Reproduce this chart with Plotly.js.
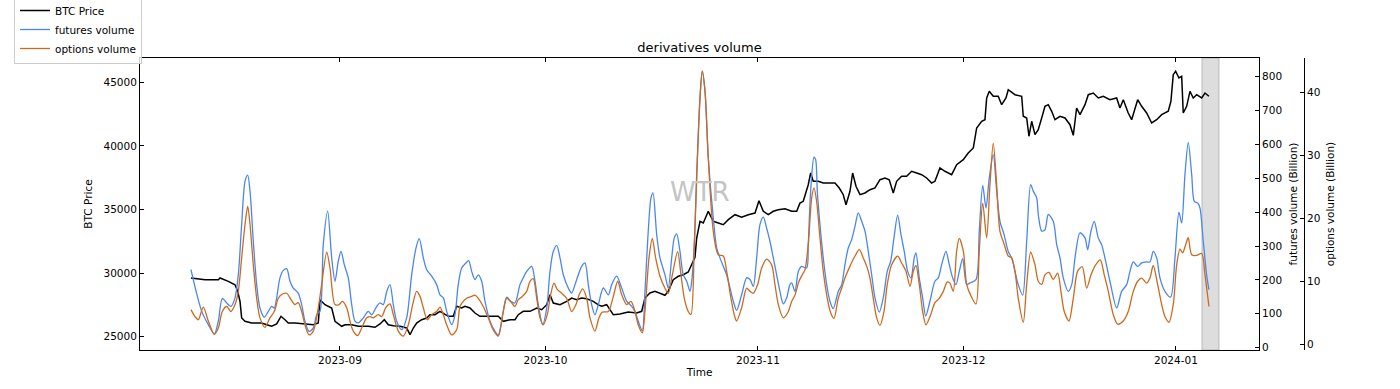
<!DOCTYPE html>
<html><head><meta charset="utf-8">
<script src="https://cdn.plot.ly/plotly-3.0.1.min.js"></script>
<style>html,body{margin:0;padding:0;background:#fff}#chart{width:1400px;height:389px}</style>
</head><body><div id="chart"></div>
<script>
// time values are days since START
const START = '2023-09-01';
const seriesNames = ['BTC Price', 'futures volume', 'options volume'];
const axisTitles = ['BTC Price', 'futures volume (Billion)', 'options volume (Billion)'];
const chartTitle = 'derivatives volume';
const xTitle = 'Time';
const watermark = 'WTR';
const xRange = ['2023-08-02 19:30', '2024-01-13 03:00'];
const shadeSpan = ['2024-01-04 19:00', '2024-01-07 07:00'];

const btcPrice = [[-21.75,29615],[-19.70,29481],[-17.76,29481],[-17.51,29615],[-16.30,29355],[-15.32,29088],[-14.93,28570],[-14.59,27783],[-14.35,26470],[-13.86,26210],[-12.89,26077],[-11.43,26077],[-10.70,25943],[-9.97,25818],[-9.24,26000],[-8.61,26604],[-8.03,26337],[-7.55,26077],[-6.57,26077],[-5.11,26022],[-3.90,25943],[-3.17,26077],[-2.92,27909],[-2.19,27516],[-1.21,27256],[-0.73,26211],[0.25,25818],[0.73,25943],[1.71,25943],[2.67,25818],[4.13,25818],[5.11,25739],[5.84,26000],[6.47,26337],[7.05,25943],[7.78,25865],[8.76,25818],[9.73,25684],[10.22,25157],[10.70,25684],[11.19,26077],[11.92,26337],[12.65,26470],[13.13,26730],[13.86,26730],[14.59,26997],[15.81,26604],[16.53,26604],[17.03,27390],[17.76,27256],[18.24,27390],[18.97,27256],[19.70,26863],[20.43,26604],[21.89,26604],[23.10,26604],[23.83,26211],[24.81,26337],[25.54,26337],[26.02,26730],[26.75,26997],[27.73,26997],[28.71,27256],[29.44,27123],[30.17,27516],[30.65,28302],[31.13,27650],[32.11,27516],[33.08,27783],[33.81,28043],[34.54,27909],[35.27,28043],[36.00,27988],[36.97,27783],[37.70,27500],[38.19,27390],[38.92,27516],[39.89,26730],[40.86,26785],[42.07,26942],[43.30,26863],[44.03,26997],[44.51,28043],[45.24,28436],[45.97,28570],[46.70,28436],[47.43,28255],[47.91,28570],[48.64,29481],[49.37,29749],[50.10,29874],[50.83,30087],[51.33,30661],[51.81,31242],[52.06,32760],[52.54,34073],[53.02,33939],[53.75,34859],[54.48,34073],[55.21,33939],[55.94,33805],[56.67,34199],[57.65,34592],[58.62,34388],[59.59,34592],[60.57,34725],[61.15,35693],[61.78,34859],[62.51,34592],[63.24,34859],[63.97,34985],[64.94,35063],[65.92,34859],[66.65,34859],[67.13,35500],[67.61,35645],[68.34,36950],[68.69,37870],[69.07,37217],[69.80,37217],[70.53,37084],[71.51,37084],[72.24,37084],[72.87,36690],[73.45,36164],[73.85,35378],[74.43,36431],[74.82,37870],[75.31,36824],[75.89,36164],[76.62,36298],[77.35,36557],[78.08,36690],[78.81,37343],[79.54,37477],[80.16,37343],[80.75,36298],[81.24,37217],[81.97,37610],[82.70,37610],[83.43,38004],[84.16,37870],[84.89,37737],[85.62,37477],[86.35,37084],[86.83,37217],[87.56,38263],[88.29,38004],[89.27,37737],[90.00,38523],[90.97,38916],[91.69,39443],[92.43,39836],[92.92,41408],[93.65,41934],[94.13,42061],[94.38,43767],[94.76,44293],[95.34,43900],[96.07,43900],[96.57,43240],[97.20,43767],[97.53,44419],[98.51,44026],[99.49,43900],[99.72,42328],[100.22,42194],[100.55,40756],[100.95,41934],[101.43,40881],[101.91,41274],[102.41,42194],[102.89,43114],[103.37,43240],[103.87,42721],[104.35,42061],[105.08,42328],[105.81,42194],[106.54,41667],[107.02,40834],[107.51,42981],[108.00,42453],[108.73,43240],[109.21,44026],[109.94,44159],[110.67,43767],[111.40,43900],[112.37,43633],[113.35,43767],[113.83,42981],[114.32,43633],[115.04,42588],[115.54,42061],[116.42,43633],[117.00,43114],[117.73,42588],[118.46,41801],[119.19,42061],[119.92,42453],[120.88,42721],[121.27,43507],[121.61,45598],[121.96,45866],[122.44,45339],[122.84,45473],[123.07,42588],[123.57,43114],[124.05,44293],[124.53,43767],[125.03,44026],[125.76,43767],[126.24,44159],[126.82,43900]];

const futuresVolume = [[-21.75,230],[-20.18,107],[-19.22,68],[-18.34,40],[-17.76,78],[-17.18,145],[-16.53,132],[-15.91,122],[-15.32,147],[-14.84,215],[-14.35,363],[-13.86,491],[-13.47,509],[-13.13,462],[-12.65,314],[-12.16,186],[-11.68,117],[-11.05,90],[-10.46,107],[-9.97,122],[-9.59,117],[-9.24,147],[-8.76,206],[-8.27,228],[-7.78,233],[-7.30,196],[-6.82,176],[-6.09,161],[-5.59,127],[-5.11,78],[-4.52,48],[-3.90,58],[-3.40,97],[-2.92,107],[-2.44,304],[-1.80,403],[-1.21,265],[-0.73,196],[-0.25,255],[0.15,284],[0.63,245],[1.21,206],[1.71,127],[2.19,78],[2.67,73],[3.40,88],[4.13,107],[4.63,97],[5.36,122],[5.84,132],[6.32,127],[6.82,166],[7.30,186],[7.78,127],[8.27,78],[9.00,53],[9.73,88],[10.46,215],[11.09,294],[11.57,322],[12.16,265],[12.65,230],[13.38,211],[14.11,186],[14.59,156],[15.08,147],[15.57,107],[16.30,68],[16.78,97],[17.26,186],[17.76,235],[18.39,250],[18.78,257],[19.22,225],[19.70,201],[20.18,215],[20.68,196],[21.16,137],[21.89,78],[22.62,48],[23.10,37],[23.74,97],[24.33,149],[24.91,137],[25.54,132],[26.27,186],[26.75,206],[27.25,225],[27.98,240],[28.46,196],[28.94,127],[29.58,68],[30.17,117],[30.65,225],[31.13,284],[31.63,302],[32.11,265],[32.59,215],[33.32,176],[33.81,161],[34.30,186],[34.78,215],[35.27,240],[35.76,250],[36.24,186],[36.73,127],[37.21,97],[37.70,127],[38.43,176],[39.16,156],[39.65,186],[40.38,211],[41.11,176],[41.84,137],[42.57,122],[43.05,107],[43.53,78],[44.12,50],[44.51,166],[44.99,344],[45.39,442],[45.68,457],[46.22,334],[46.70,265],[47.43,215],[47.91,176],[48.41,265],[48.79,324],[49.14,336],[49.62,284],[50.10,215],[50.60,196],[51.08,166],[51.33,196],[51.71,304],[52.06,511],[52.54,737],[52.87,816],[53.27,757],[53.75,560],[54.48,383],[54.98,294],[55.46,265],[55.94,240],[56.43,215],[56.92,176],[57.40,137],[57.89,110],[58.62,156],[59.35,206],[59.84,201],[60.32,181],[60.81,265],[61.29,363],[61.78,385],[62.27,353],[62.75,314],[63.24,265],[63.73,215],[64.21,166],[64.70,129],[65.19,147],[65.67,186],[65.92,191],[66.40,166],[66.89,225],[67.38,240],[68.11,235],[68.34,304],[68.69,462],[69.18,562],[69.42,555],[69.66,462],[70.05,363],[70.53,265],[71.03,186],[71.51,137],[71.99,115],[72.72,166],[73.22,186],[73.70,245],[74.18,294],[74.68,319],[75.16,358],[75.64,398],[76.14,373],[76.62,344],[77.10,284],[77.60,215],[78.08,147],[78.71,105],[79.29,147],[79.87,225],[80.37,255],[80.85,324],[81.39,391],[81.87,334],[82.35,284],[82.85,225],[83.33,206],[83.81,265],[84.06,280],[84.54,206],[85.04,147],[85.48,93],[86.10,137],[86.83,196],[87.32,206],[87.81,245],[88.44,284],[88.92,245],[89.42,206],[89.90,186],[90.38,225],[90.88,263],[91.46,186],[91.94,191],[92.82,201],[93.30,344],[93.80,479],[94.28,412],[94.76,501],[95.34,570],[95.84,462],[96.32,373],[96.90,335],[97.53,284],[98.03,265],[98.51,225],[98.99,186],[99.63,155],[100.22,314],[100.80,481],[101.18,462],[101.68,442],[101.91,393],[102.41,344],[102.89,348],[103.37,393],[104.10,373],[104.60,304],[105.08,265],[105.56,206],[106.29,166],[106.79,186],[107.27,265],[108.00,339],[108.73,324],[109.12,289],[109.60,344],[110.08,373],[110.67,324],[111.16,304],[111.64,265],[112.37,196],[113.35,117],[114.08,166],[114.81,186],[115.29,225],[115.78,253],[116.42,240],[117.00,250],[117.73,253],[118.21,253],[118.69,284],[119.19,265],[119.67,206],[120.40,166],[121.23,149],[121.86,265],[122.44,400],[122.84,368],[123.32,511],[123.80,606],[124.30,511],[124.68,432],[125.17,427],[125.51,412],[125.99,314],[126.48,215],[126.82,171]];

const optionsVolume = [[-21.75,5.5],[-21.16,4.4],[-20.68,3.9],[-19.95,5.9],[-19.22,3.7],[-18.34,1.6],[-17.76,2.6],[-17.18,5.2],[-16.53,6.0],[-15.91,5.2],[-15.32,6.3],[-14.84,8.4],[-14.35,13.7],[-13.86,19.0],[-13.47,21.9],[-13.13,19.0],[-12.65,12.6],[-12.16,7.3],[-11.68,4.2],[-10.95,2.7],[-10.22,4.2],[-9.59,5.2],[-9.00,7.3],[-8.51,7.9],[-7.78,8.1],[-7.15,7.1],[-6.57,6.3],[-6.09,6.6],[-5.59,5.2],[-5.11,3.1],[-4.52,1.5],[-3.90,2.1],[-3.17,5.8],[-2.67,9.5],[-1.94,14.6],[-1.46,12.1],[-0.73,6.3],[-0.15,6.3],[0.34,6.8],[0.98,5.8],[1.46,3.7],[1.94,2.1],[2.58,1.4],[3.17,2.6],[3.90,4.2],[4.38,4.4],[4.86,4.2],[5.59,4.7],[6.09,4.4],[6.67,5.8],[7.30,6.4],[7.78,4.7],[8.51,2.1],[9.24,1.3],[9.97,3.1],[10.61,6.3],[11.19,8.4],[11.68,7.6],[12.16,5.8],[12.74,3.9],[13.38,4.7],[14.11,5.2],[14.59,5.9],[15.08,4.7],[15.57,3.1],[16.30,1.5],[17.03,2.3],[17.51,6.0],[17.99,6.8],[18.49,7.3],[19.22,7.6],[19.70,7.8],[20.18,7.3],[20.91,6.0],[21.64,4.2],[22.37,2.3],[23.10,1.3],[23.83,5.2],[24.33,7.3],[24.91,6.8],[25.54,6.0],[26.02,7.1],[26.52,7.5],[27.25,8.4],[27.73,10.0],[28.21,10.4],[28.71,7.3],[29.19,4.2],[29.67,3.1],[30.25,4.7],[30.75,7.9],[31.23,9.7],[31.71,8.7],[32.35,8.1],[33.08,7.3],[33.81,5.2],[34.44,6.3],[34.92,7.9],[35.42,8.8],[36.00,7.3],[36.49,4.2],[37.21,2.1],[37.80,4.2],[38.28,5.1],[39.16,5.2],[39.89,7.6],[40.53,10.0],[41.11,7.9],[41.84,6.3],[42.47,6.8],[43.05,5.2],[43.53,3.1],[44.12,1.8],[44.51,5.2],[45.10,13.7],[45.58,16.8],[46.07,13.7],[46.70,10.8],[47.43,8.9],[47.91,8.1],[48.50,11.0],[49.28,14.7],[49.77,11.0],[50.25,7.3],[50.83,5.2],[51.22,4.7],[51.71,15.8],[52.06,26.4],[52.54,39.1],[52.87,43.3],[53.27,40.2],[53.75,29.6],[54.48,17.9],[55.21,14.2],[55.94,14.0],[56.43,11.6],[57.06,7.3],[57.54,4.7],[57.89,3.7],[58.62,5.8],[59.35,8.9],[59.84,8.4],[60.32,8.1],[60.96,9.5],[61.54,12.1],[62.27,13.5],[63.00,12.6],[63.48,9.5],[63.97,6.3],[64.70,4.2],[65.43,5.2],[65.92,6.8],[66.40,7.8],[66.99,10.0],[67.61,11.3],[67.86,11.8],[68.34,15.8],[68.84,23.2],[69.18,24.8],[69.56,22.7],[70.05,16.9],[70.53,11.6],[71.12,7.3],[71.61,5.0],[72.09,4.1],[72.72,7.3],[73.22,8.9],[73.70,10.5],[74.43,12.4],[75.16,14.0],[75.79,15.0],[76.37,13.7],[76.87,12.4],[77.35,10.5],[77.83,7.3],[78.33,4.2],[78.81,3.0],[79.39,5.2],[79.87,9.5],[80.51,12.6],[81.39,14.0],[81.97,12.9],[82.60,11.6],[83.19,9.2],[83.67,11.6],[84.06,12.5],[84.54,9.5],[85.04,5.2],[85.52,3.1],[86.21,4.7],[86.83,6.6],[87.46,7.3],[88.05,8.4],[88.63,9.9],[89.02,9.7],[89.50,8.4],[90.00,14.8],[90.38,16.8],[90.97,14.8],[91.46,9.5],[92.04,7.8],[92.82,6.4],[93.30,14.8],[93.80,22.4],[94.38,16.9],[94.86,25.3],[95.34,31.9],[95.84,25.3],[96.32,17.9],[96.90,16.0],[97.53,14.0],[98.03,13.7],[98.51,11.6],[98.99,7.3],[99.72,3.5],[100.22,9.5],[100.80,14.6],[101.43,12.6],[101.91,10.0],[102.41,9.5],[102.89,11.0],[103.47,11.4],[104.10,10.3],[104.74,11.3],[105.22,8.4],[105.70,5.2],[106.39,3.7],[107.02,7.3],[107.66,11.6],[108.33,12.3],[108.97,8.9],[109.60,11.0],[110.29,12.6],[110.96,13.4],[111.54,11.0],[112.13,8.4],[112.86,4.7],[113.50,3.2],[114.32,3.7],[115.04,5.2],[115.78,8.4],[116.42,10.0],[117.00,10.5],[117.73,9.7],[118.21,10.5],[118.69,12.5],[119.33,9.5],[119.92,6.3],[120.40,4.4],[120.98,3.5],[121.61,6.3],[122.11,12.6],[122.59,15.1],[122.98,14.5],[123.42,15.8],[123.80,16.9],[124.30,14.2],[125.03,14.1],[125.76,14.4],[126.24,11.0],[126.82,6.0]];

const base = Date.parse(START + 'T00:00:00Z');
const toTime = d => new Date(base + d * 864e5).toISOString().slice(0, 16).replace('T', ' ');
const xs = arr => arr.map(p => toTime(p[0]));
const ys = arr => arr.map(p => p[1]);

const FONT = 'DejaVu Sans, sans-serif';
const tf = {family: FONT, size: 10.5, color: '#000'};

const traces = [
  {x: xs(btcPrice), y: ys(btcPrice), name: seriesNames[0], type: 'scatter', mode: 'lines',
   line: {color: '#000000', width: 1.5}, xaxis: 'x', yaxis: 'y'},
  {x: xs(futuresVolume), y: ys(futuresVolume), name: seriesNames[1], type: 'scatter', mode: 'lines',
   line: {color: '#4a86f0', width: 1.3, shape: 'spline', smoothing: 0.8}, xaxis: 'x', yaxis: 'y2'},
  {x: xs(optionsVolume), y: ys(optionsVolume), name: seriesNames[2], type: 'scatter', mode: 'lines',
   line: {color: '#cc6a1e', width: 1.3, shape: 'spline', smoothing: 0.8}, xaxis: 'x', yaxis: 'y3'}
];

const ax = {showgrid: false, zeroline: false, showline: true, linecolor: '#000', linewidth: 1,
  ticks: 'inside', ticklen: 4, tickwidth: 1, tickcolor: '#000', tickfont: tf};

const layout = {
  width: 1400, height: 389,
  margin: {l: 0, r: 0, t: 58, b: 39, autoexpand: false},
  paper_bgcolor: '#fff', plot_bgcolor: '#fff',
  showlegend: true, hovermode: false,
  title: {text: chartTitle, x: 699.5/1400, xanchor: 'center', y: 1 - 47/389, yanchor: 'middle',
          font: {family: FONT, size: 13, color: '#000'}},
  xaxis: Object.assign({}, ax, {domain: [140/1400, 1259/1400], type: 'date', range: xRange,
          dtick: 'M1', tick0: '2023-09-01', tickformat: '%Y-%m', mirror: 'ticks',
          title: {text: xTitle, font: tf, standoff: 4}}),
  yaxis: Object.assign({}, ax, {range: [23955, 46910], dtick: 5000, tick0: 0, tickformat: 'd',
          title: {text: axisTitles[0], font: tf, standoff: 8}}),
  yaxis2: Object.assign({}, ax, {overlaying: 'y', side: 'right', anchor: 'x', range: [-7, 855],
          dtick: 100, tick0: 0, title: {text: axisTitles[1], font: tf, standoff: 8}}),
  yaxis3: Object.assign({}, ax, {overlaying: 'y', side: 'right', anchor: 'free', position: 1304/1400,
          range: [-0.9, 45.4], dtick: 10, tick0: 0, title: {text: axisTitles[2], font: tf, standoff: 7}}),
  legend: {x: 14/1400, y: 1 + 63/292, xanchor: 'left', yanchor: 'top', bordercolor: '#cccccc',
           borderwidth: 1, bgcolor: 'rgba(255,255,255,0.8)', font: tf, tracegroupgap: 0},
  shapes: [{type: 'rect', xref: 'x', yref: 'paper', x0: shadeSpan[0], x1: shadeSpan[1], y0: 0, y1: 1,
            fillcolor: 'rgba(128,128,128,0.27)', line: {color: 'rgba(110,110,110,0.35)', width: 1}, layer: 'below'}],
  annotations: [{text: watermark, xref: 'paper', yref: 'paper', x: 0.5, y: (350-192)/292,
                 showarrow: false, font: {family: FONT, size: 26, color: '#c4c4c4'}}]
};

Plotly.newPlot('chart', traces, layout, {staticPlot: true, displayModeBar: false});
</script>
</body></html>
